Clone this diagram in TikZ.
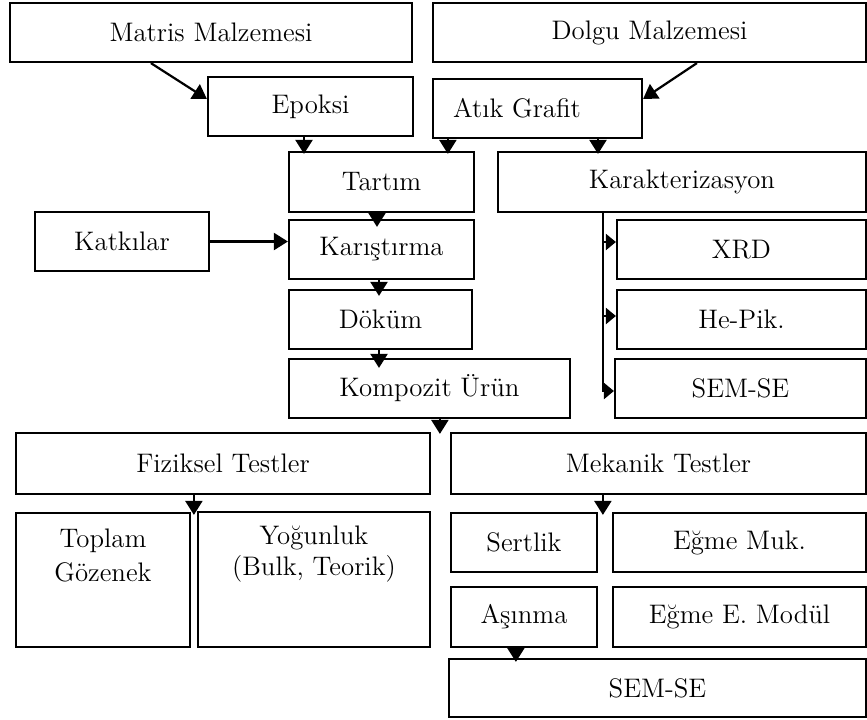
\documentclass[tikz,border=0pt]{standalone}
\usepackage{fontspec}
\usetikzlibrary{arrows.meta,positioning}

\begin{document}
\begin{tikzpicture}[x=0.5pt,y=-0.5pt]
    % Define styles
    \tikzset{
        box/.style={
            draw=black,
            line width=1.1pt,
            rectangle,
            align=center,
            font=\fontsize{13.4}{16}\selectfont,
            inner sep=2pt
        },
        arrow/.style={
            -{Triangle[length=7pt,width=8.5pt]},
            line width=1.1pt
        },
        branch/.style={
            -{Triangle[length=5pt,width=8pt]},
            line width=1.1pt
        }
    }

    \useasboundingbox (0,0) rectangle (867,719);

    % Raw materials
    \node[box, minimum width=201pt, minimum height=29.5pt] (matris) at (211,32.5) {Matris Malzemesi};
    \node[box, minimum width=216.5pt, minimum height=29.5pt] (dolgu) at (649.5,32.5) {Dolgu Malzemesi};
    \node[box, minimum width=102.5pt, minimum height=29.5pt] (epoksi) at (310.5,106.5) {Epoksi};
    \node[box, minimum width=104.5pt, minimum height=29.5pt] (atik) at (537.5,108.5) {Atık Grafit\hspace*{20.5pt}};

    % Production column
    \node[box, minimum width=92.5pt, minimum height=30pt] (tartim) at (381.5,182) {Tartım};
    \node[box, minimum width=87pt, minimum height=29.5pt] (katki) at (122,241.5) {Katkılar};
    \node[box, minimum width=92.5pt, minimum height=29.5pt] (karis) at (381.5,249.5) {Karıştırma};
    \node[box, minimum width=91.5pt, minimum height=29.5pt] (dokum) at (380.5,319.5) {Döküm};
    \node[box, minimum width=140.5pt, minimum height=29.5pt] (kompozit) at (429.5,388.5) {Kompozit Ürün};

    % Characterisation column
    \node[box, minimum width=184pt, minimum height=30pt] (karak) at (682,182) {Karakterizasyon};
    \node[box, minimum width=124.5pt, minimum height=29.5pt] (xrd) at (741.5,249.5) {XRD};
    \node[box, minimum width=124.5pt, minimum height=29.5pt] (hepik) at (741.5,319.5) {He-Pik.};
    \node[box, minimum width=125.5pt, minimum height=29.5pt] (semk) at (740.5,388.5) {SEM-SE};

    % Tests
    \node[box, minimum width=207pt, minimum height=30.5pt] (fiziksel) at (223,463.5) {Fiziksel Testler};
    \node[box, minimum width=207.5pt, minimum height=30.5pt] (mekanik) at (658.5,463.5) {Mekanik Testler};
    \node[box, minimum width=87pt, minimum height=67pt,
        label={[align=center, anchor=north, yshift=-5pt, font=\fontsize{13.4}{17}\selectfont]north:Toplam\\Gözenek}] (toplam) at (103,580) {};
    \node[box, minimum width=116pt, minimum height=67.5pt,
        label={[align=center, anchor=north, yshift=-4pt, font=\fontsize{13.4}{15.5}\selectfont]north:Yoğunluk\\(Bulk, Teorik)}] (yogun) at (314,579.5) {};
    \node[box, minimum width=73pt, minimum height=29.5pt] (sertlik) at (524,542.5) {Sertlik};
    \node[box, minimum width=126.5pt, minimum height=29.5pt] (egmemuk) at (739.5,542.5) {Eğme Muk.};
    \node[box, minimum width=73pt, minimum height=30pt] (asinma) at (524,617) {Aşınma};
    \node[box, minimum width=126.5pt, minimum height=30pt] (egmemod) at (739.5,617) {Eğme E. Modül};
    \node[box, minimum width=208.5pt, minimum height=29pt] (semm) at (657.5,688) {SEM-SE};

    % Arrow start points
    \coordinate (e1) at ([xshift=-3.25pt]epoksi.south);
    \coordinate (a1) at ([xshift=8pt]atik.south west);
    \coordinate (a2) at ([xshift=30.25pt]atik.south);
    \coordinate (t1) at ([xshift=-2.25pt]tartim.south);
    \coordinate (k1) at ([xshift=-1.25pt]karis.south);
    \coordinate (d1) at ([xshift=-0.75pt]dokum.south);
    \coordinate (kline) at ([xshift=53pt]karak.south west);
    \coordinate (c1) at ([xshift=76pt]kompozit.south west);
    \coordinate (f1) at ([xshift=89.5pt]fiziksel.south west);
    \coordinate (m1) at ([xshift=76.5pt]mekanik.south west);
    \coordinate (s1) at ([xshift=33pt]asinma.south west);

    % Materials to production
    \draw[arrow] ([xshift=71pt]matris.south west) -- ([yshift=3.75pt]epoksi.west);
    \draw[arrow] ([xshift=132.5pt]dolgu.south west) -- ([yshift=4.75pt]atik.east);
    \draw[arrow] (e1) -- ([yshift=-1.5pt]e1 |- tartim.north);
    \draw[arrow] (a1) -- ([yshift=-1.5pt]a1 |- tartim.north);
    \draw[arrow] (a2) -- ([yshift=-1.5pt]a2 |- karak.north);

    % Production flow
    \draw[arrow] (t1) -- ([yshift=-4pt]t1 |- karis.north);
    \draw[arrow] (katki.east) -- (katki.east -| karis.west);
    \draw[arrow] (k1) -- ([yshift=-3.5pt]k1 |- dokum.north);
    \draw[arrow] (d1) -- ([yshift=-5pt]d1 |- kompozit.north);

    % Characterisation branches
    \draw[branch] (kline) |- ([yshift=-1.25pt]semk.west);
    \draw[branch] ([yshift=3.75pt]kline |- xrd.west) -- ([yshift=3.75pt]xrd.west);
    \draw[branch] ([yshift=1.75pt]kline |- hepik.west) -- ([yshift=1.75pt]hepik.west);

    % Tests
    \draw[arrow] (c1) -- ([yshift=-1pt]c1 |- fiziksel.north);
    \draw[arrow] (f1) -- ([yshift=-1.5pt]f1 |- toplam.north);
    \draw[arrow] (m1) -- ([yshift=-1.5pt]m1 |- sertlik.north);
    \draw[arrow] (s1) -- ([yshift=-2pt]s1 |- semm.north);

\end{tikzpicture}
\end{document}
